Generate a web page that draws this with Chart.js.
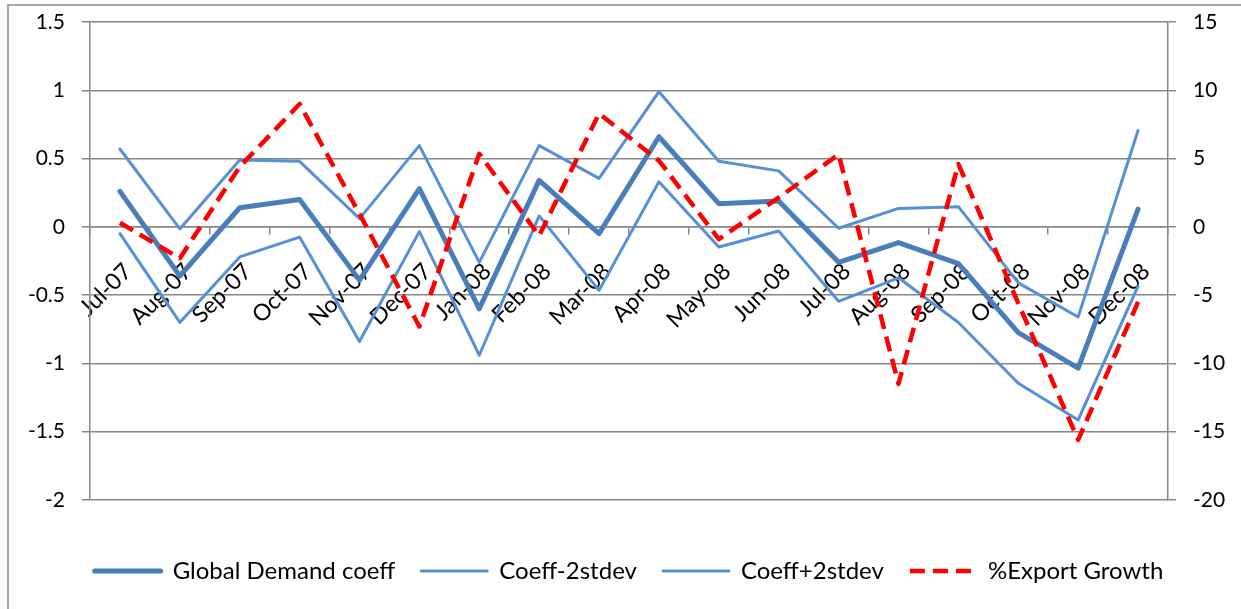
<!DOCTYPE html>
<html>
<head>
<meta charset="utf-8">
<title>Global Demand coefficient and export growth</title>
<script src="https://cdn.jsdelivr.net/npm/chart.js@4/dist/chart.umd.min.js"></script>
<style>
  html, body { margin: 0; padding: 0; background: #ffffff; }
  #wrap { position: relative; width: 1241px; height: 609px; }
</style>
</head>
<body>
<div id="wrap"><canvas id="chart"></canvas></div>
<script>
// Months on the category axis
const months = ['Jul-07', 'Aug-07', 'Sep-07', 'Oct-07', 'Nov-07', 'Dec-07',
                'Jan-08', 'Feb-08', 'Mar-08', 'Apr-08', 'May-08', 'Jun-08',
                'Jul-08', 'Aug-08', 'Sep-08', 'Oct-08', 'Nov-08', 'Dec-08'];

// Left axis series
const globalDemandCoeff = [0.26, -0.36, 0.14, 0.20, -0.39, 0.28, -0.60, 0.34, -0.05,
                           0.66, 0.17, 0.19, -0.26, -0.115, -0.27, -0.775, -1.035, 0.13];
const coeffMinus2Sd = [-0.05, -0.70, -0.22, -0.075, -0.84, -0.035, -0.94, 0.08, -0.465,
                       0.33, -0.147, -0.03, -0.545, -0.373, -0.70, -1.145, -1.414, -0.434];
const coeffPlus2Sd = [0.57, -0.015, 0.49, 0.48, 0.06, 0.595, -0.26, 0.595, 0.355,
                      0.99, 0.48, 0.41, -0.01, 0.135, 0.148, -0.41, -0.66, 0.705];

// Right axis series (%)
const exportGrowth = [0.3, -2.3, 4.4, 9.0, 0.95, -7.3, 5.35, -0.65, 8.3,
                      4.85, -0.9, 2.15, 5.3, -11.5, 4.6, -5.6, -15.6, -5.5];

// Axis ticks
const leftTicks = [-2, -1.5, -1, -0.5, 0, 0.5, 1, 1.5];
const rightTicks = [-20, -15, -10, -5, 0, 5, 10, 15];

const GRID = '#878787';
const TICK_FONT = { family: 'Lato', size: 21 };

// Light frame around the chart
const framePlugin = {
  id: 'frame',
  beforeDraw(chart) {
    const ctx = chart.ctx;
    ctx.save();
    ctx.fillStyle = '#ffffff';
    ctx.fillRect(0, 0, chart.width, chart.height);
    ctx.strokeStyle = '#8c8c8c';
    ctx.lineWidth = 1.5;
    ctx.beginPath();
    ctx.moveTo(8, chart.height + 5);
    ctx.lineTo(8, 5);
    ctx.lineTo(chart.width + 5, 5);
    ctx.stroke();
    ctx.restore();
  }
};

// Value axes: fixed width, no extra vertical padding for end labels
function fitValueAxis(scale) {
  scale.width = 73;
  scale.paddingTop = 0;
  scale.paddingBottom = 0;
}

new Chart(document.getElementById('chart'), {
  type: 'line',
  data: {
    labels: months,
    datasets: [
      {
        label: 'Global Demand coeff',
        data: globalDemandCoeff,
        yAxisID: 'y',
        borderColor: '#4a7ebb',
        borderWidth: 5,
        borderCapStyle: 'round',
        borderJoinStyle: 'round',
        order: 3
      },
      {
        label: 'Coeff-2stdev',
        data: coeffMinus2Sd,
        yAxisID: 'y',
        borderColor: '#5690d6',
        borderWidth: 3,
        borderCapStyle: 'round',
        borderJoinStyle: 'round',
        order: 2
      },
      {
        label: 'Coeff+2stdev',
        data: coeffPlus2Sd,
        yAxisID: 'y',
        borderColor: '#5690d6',
        borderWidth: 3,
        borderCapStyle: 'round',
        borderJoinStyle: 'round',
        order: 1
      },
      {
        label: '%Export Growth',
        data: exportGrowth,
        yAxisID: 'y1',
        borderColor: '#ff0000',
        borderWidth: 4.5,
        borderDash: [15, 8],
        borderJoinStyle: 'round',
        order: 0
      }
    ]
  },
  options: {
    responsive: true,
    maintainAspectRatio: false,
    animation: false,
    devicePixelRatio: 1,
    elements: {
      point: { radius: 0, hoverRadius: 0 },
      line: { tension: 0, fill: false }
    },
    layout: { padding: { left: 17, right: 0, top: 22, bottom: 16 } },
    scales: {
      x: {
        type: 'category',
        position: { y: 0 },
        offset: true,
        grid: {
          display: true,
          offset: true,
          drawOnChartArea: false,
          drawTicks: true,
          tickLength: 7,
          color: GRID,
          lineWidth: 1.5
        },
        border: { display: true, color: GRID, width: 1.5 },
        ticks: {
          autoSkip: false,
          maxRotation: 45,
          minRotation: 45,
          padding: 24,
          labelOffset: 8,
          color: '#000000',
          font: { family: 'Lato', size: 23 }
        }
      },
      y: {
        type: 'linear',
        position: 'left',
        min: -2,
        max: 1.5,
        afterBuildTicks(scale) { scale.ticks = leftTicks.map(v => ({ value: v })); },
        afterFit: fitValueAxis,
        grid: { color: GRID, lineWidth: 1.5, tickLength: 8 },
        border: { display: true, color: GRID, width: 1.5 },
        ticks: { padding: 17, color: '#000000', font: TICK_FONT, callback: v => String(v) }
      },
      y1: {
        type: 'linear',
        position: 'right',
        min: -20,
        max: 15,
        afterBuildTicks(scale) { scale.ticks = rightTicks.map(v => ({ value: v })); },
        afterFit: fitValueAxis,
        grid: { drawOnChartArea: false, color: GRID, lineWidth: 1.5, tickLength: 8 },
        border: { display: true, color: GRID, width: 1.5 },
        ticks: { padding: 17, color: '#000000', font: TICK_FONT, callback: v => String(v) }
      }
    },
    plugins: {
      tooltip: { enabled: false },
      legend: {
        display: true,
        position: 'bottom',
        title: { display: true, text: '', padding: 0, font: { size: 33, lineHeight: 1 } },
        labels: {
          usePointStyle: true,
          pointStyleWidth: 66,
          padding: 26,
          color: '#000000',
          font: { family: 'Lato', size: 24 },
          generateLabels(chart) {
            return chart.data.datasets.map((ds, i) => ({
              text: ds.label,
              fillStyle: ds.borderColor,
              strokeStyle: ds.borderColor,
              lineWidth: ds.borderWidth,
              lineDash: ds.borderDash || [],
              lineCap: ds.borderCapStyle || 'butt',
              pointStyle: 'line',
              fontColor: '#000000',
              hidden: false,
              datasetIndex: i
            }));
          }
        }
      }
    }
  },
  plugins: [framePlugin]
});
</script>
</body>
</html>
